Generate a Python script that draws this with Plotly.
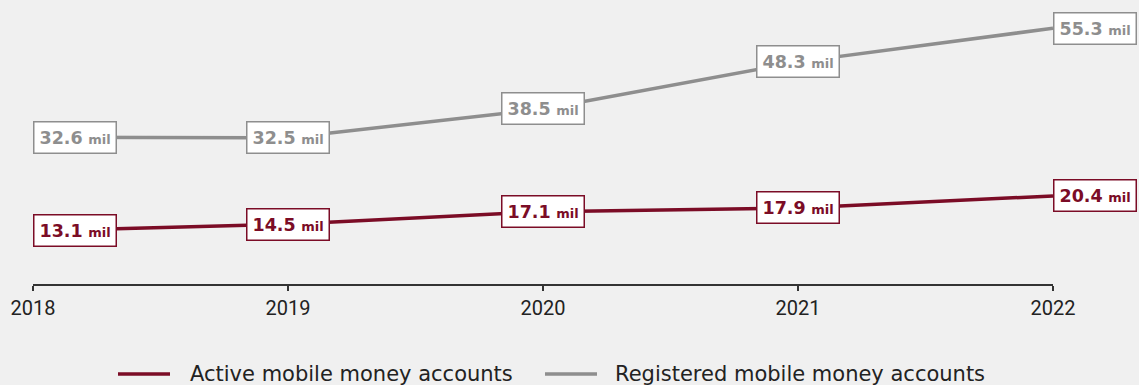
import plotly.graph_objects as go

# Mobile money accounts, millions
years = [2018, 2019, 2020, 2021, 2022]
active = [13.1, 14.5, 17.1, 17.9, 20.4]
registered = [32.6, 32.5, 38.5, 48.3, 55.3]
series_names = ["Active mobile money accounts", "Registered mobile money accounts"]

RED = "#7b0c26"
GRAY = "#8e8e8e"
BG = "#f0f0f0"
INK = "#222222"
LABEL_FONT = "DejaVu Sans"
TEXT_FONT = "DejaVu Sans"
TICK_FONT = "Roboto"

W, H = 1139, 385
L, R, T, B = 33, 86, 10, 101
PW, PH = W - L - R, H - T - B


def px_to_paper(px, py):
    return (px - L) / PW, (H - B - py) / PH


fig = go.Figure()
for vals, name, color in [(active, series_names[0], RED), (registered, series_names[1], GRAY)]:
    fig.add_trace(go.Scatter(x=years, y=vals, mode="lines", name=name,
                             line=dict(color=color, width=3.5), cliponaxis=False,
                             showlegend=False))


def label(x, y, color, i, n):
    anchor = "left" if i in (0, n - 1) else "center"
    return dict(
        x=x, y=y, xref="x", yref="y", showarrow=False,
        text=f"<b>{y:.1f}</b> <b><span style='font-size:13px'>mil</span></b>",
        font=dict(family=LABEL_FONT, size=17.5, color=color),
        bgcolor="white", bordercolor=color, borderwidth=1.5, borderpad=5,
        xanchor=anchor, yanchor="middle",
    )


annotations = []
for i, (x, y) in enumerate(zip(years, active)):
    annotations.append(label(x, y, RED, i, len(years)))
for i, (x, y) in enumerate(zip(years, registered)):
    annotations.append(label(x, y, GRAY, i, len(years)))

# Legend drawn below the axis: a short line swatch followed by the series name
shapes = []
legend_items = [(118, 170, 188, RED, series_names[0]), (545, 597, 613, GRAY, series_names[1])]
for x0, x1, xt, color, name in legend_items:
    px0, py = px_to_paper(x0, 374)
    px1, _ = px_to_paper(x1, 374)
    shapes.append(dict(type="line", xref="paper", yref="paper", x0=px0, x1=px1, y0=py, y1=py,
                       line=dict(color=color, width=3.5)))
    tx, ty = px_to_paper(xt, 374)
    annotations.append(dict(x=tx, y=ty, xref="paper", yref="paper", showarrow=False,
                            text=name, xanchor="left", yanchor="middle",
                            font=dict(family=TEXT_FONT, size=21, color=INK)))

fig.update_layout(
    width=W, height=H,
    margin=dict(l=L, r=R, t=T, b=B),
    paper_bgcolor=BG, plot_bgcolor=BG,
    font=dict(family=TEXT_FONT, color=INK),
    annotations=annotations,
    shapes=shapes,
    showlegend=False,
    xaxis=dict(
        range=[2018, 2022], tickmode="array", tickvals=years,
        ticktext=[str(y) for y in years],
        showgrid=False, zeroline=False,
        showline=True, linecolor="#333333", linewidth=1.5,
        ticks="outside", ticklen=5, tickcolor="#333333", tickwidth=1.5,
        tickfont=dict(family=TICK_FONT, size=20, color=INK),
    ),
    yaxis=dict(range=[2.06, 59.1], visible=False),
)

fig.write_html("out.html")
